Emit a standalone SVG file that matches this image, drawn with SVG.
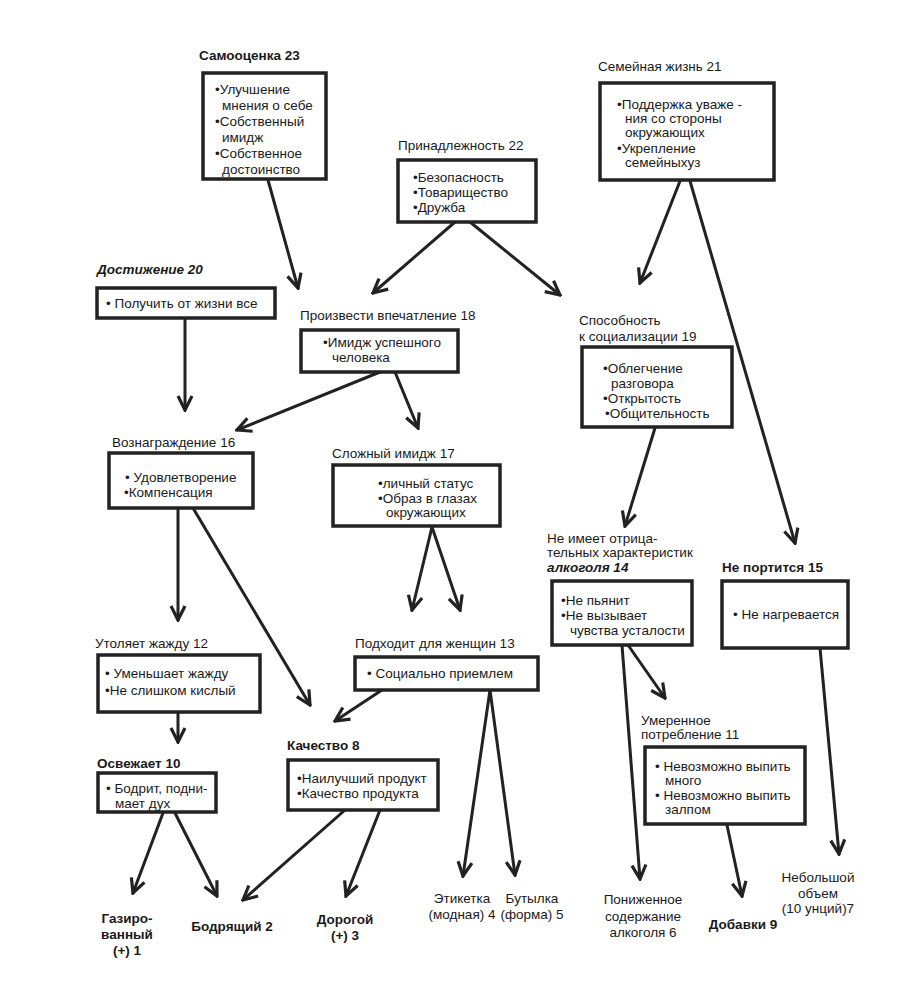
<svg xmlns="http://www.w3.org/2000/svg" width="916" height="983" viewBox="0 0 916 983">
<defs>
<style>
text{font-family:"Liberation Sans",Arial,sans-serif;font-size:13.5px;fill:#1a1a1a}
.b{font-weight:bold}
.bi{font-weight:bold;font-style:italic}
.c{text-anchor:middle}
rect.box{fill:#fff;stroke:#222;stroke-width:3.5}
.conn path,.conn line{stroke:#222;stroke-width:3;fill:none;stroke-linecap:round}
</style>
<marker id="ah" viewBox="0 0 18 18" refX="16" refY="9" markerWidth="18" markerHeight="18" markerUnits="userSpaceOnUse" orient="auto">
<path d="M2,2 L16,9 L2,16" fill="none" stroke="#222" stroke-width="3.2" stroke-linejoin="miter"/>
</marker>
</defs>
<rect width="916" height="983" fill="#fff"/>

<g id="connectors" class="conn">
<line x1="268" y1="180" x2="298" y2="288" marker-end="url(#ah)"/>
<line x1="455" y1="222" x2="373" y2="293" marker-end="url(#ah)"/>
<line x1="470" y1="222" x2="560" y2="295" marker-end="url(#ah)"/>
<line x1="680" y1="181" x2="640" y2="283" marker-end="url(#ah)"/>
<line x1="690" y1="181" x2="795" y2="543" marker-end="url(#ah)"/>
<line x1="185" y1="318" x2="185" y2="410" marker-end="url(#ah)"/>
<line x1="380" y1="372" x2="237" y2="430" marker-end="url(#ah)"/>
<line x1="395" y1="372" x2="418" y2="428" marker-end="url(#ah)"/>
<line x1="178" y1="508" x2="178" y2="620" marker-end="url(#ah)"/>
<line x1="193" y1="508" x2="310" y2="705" marker-end="url(#ah)"/>
<line x1="432" y1="527" x2="412" y2="610" marker-end="url(#ah)"/>
<line x1="432" y1="527" x2="460" y2="610" marker-end="url(#ah)"/>
<line x1="655" y1="428" x2="625" y2="526" marker-end="url(#ah)"/>
<line x1="178" y1="712" x2="178" y2="742" marker-end="url(#ah)"/>
<line x1="382" y1="690" x2="335" y2="721" marker-end="url(#ah)"/>
<line x1="490" y1="690" x2="463" y2="876" marker-end="url(#ah)"/>
<line x1="490" y1="690" x2="515" y2="875" marker-end="url(#ah)"/>
<line x1="628" y1="645" x2="665" y2="698" marker-end="url(#ah)"/>
<line x1="622" y1="645" x2="640" y2="879" marker-end="url(#ah)"/>
<line x1="163" y1="813" x2="133" y2="893" marker-end="url(#ah)"/>
<line x1="175" y1="813" x2="217" y2="896" marker-end="url(#ah)"/>
<line x1="345" y1="810" x2="243" y2="900" marker-end="url(#ah)"/>
<line x1="380" y1="810" x2="346" y2="896" marker-end="url(#ah)"/>
<line x1="727" y1="825" x2="742" y2="896" marker-end="url(#ah)"/>
<line x1="820" y1="648" x2="839" y2="854" marker-end="url(#ah)"/>
</g>

<g id="n23">
<text x="199" y="60" class="b">Самооценка 23</text>
<rect class="box" x="203" y="73" width="123" height="106"/>
<text x="215" y="94">•Улучшение</text>
<text x="222" y="110">мнения о себе</text>
<text x="215" y="126">•Собственный</text>
<text x="222" y="142">имидж</text>
<text x="215" y="158">•Собственное</text>
<text x="222" y="174">достоинство</text>
</g>

<g id="n22">
<text x="398" y="150">Принадлежность 22</text>
<rect class="box" x="398" y="160" width="138" height="62"/>
<text x="413" y="182">•Безопасность</text>
<text x="413" y="197">•Товарищество</text>
<text x="413" y="212">•Дружба</text>
</g>

<g id="n21">
<text x="598" y="71">Семейная жизнь 21</text>
<rect class="box" x="600" y="83" width="174" height="97"/>
<text x="617" y="109">•Поддержка уваже -</text>
<text x="625" y="123">ния со стороны</text>
<text x="625" y="137">окружающих</text>
<text x="617" y="153">•Укрепление</text>
<text x="625" y="167">семейныхуз</text>
</g>

<g id="n20">
<text x="97" y="274" class="bi">Достижение 20</text>
<rect class="box" x="97" y="288" width="178" height="30"/>
<text x="106" y="308">• Получить от жизни все</text>
</g>

<g id="n18">
<text x="300" y="320">Произвести впечатление 18</text>
<rect class="box" x="301" y="330" width="157" height="42"/>
<text x="323" y="347">•Имидж успешного</text>
<text x="332" y="362">человека</text>
</g>

<g id="n19">
<text x="579" y="325">Способность</text>
<text x="579" y="341">к социализации 19</text>
<rect class="box" x="582" y="347" width="150" height="80"/>
<text x="603" y="373">•Облегчение</text>
<text x="611" y="388">разговора</text>
<text x="603" y="403">•Открытость</text>
<text x="605" y="418">•Общительность</text>
</g>

<g id="n16">
<text x="112" y="447">Вознаграждение 16</text>
<rect class="box" x="109" y="453" width="144" height="55"/>
<text x="125" y="482">• Удовлетворение</text>
<text x="124" y="497">•Компенсация</text>
</g>

<g id="n17">
<text x="332" y="458">Сложный имидж 17</text>
<rect class="box" x="333" y="465" width="167" height="61"/>
<text x="378" y="488">•личный статус</text>
<text x="378" y="503">•Образ в глазах</text>
<text x="386" y="517">окружающих</text>
</g>

<g id="n14">
<text x="547" y="543">Не имеет отрица-</text>
<text x="547" y="557">тельных характеристик</text>
<text x="547" y="572" class="bi">алкоголя 14</text>
<rect class="box" x="552" y="581" width="140" height="64"/>
<text x="561" y="605">•Не пьянит</text>
<text x="561" y="620">•Не вызывает</text>
<text x="570" y="635">чувства усталости</text>
</g>

<g id="n15">
<text x="722" y="572" class="b">Не портится 15</text>
<rect class="box" x="722" y="581" width="126" height="67"/>
<text x="733" y="619">• Не нагревается</text>
</g>

<g id="n12">
<text x="95" y="648">Утоляет жажду 12</text>
<rect class="box" x="98" y="655" width="162" height="57"/>
<text x="105" y="678">• Уменьшает жажду</text>
<text x="105" y="695">•Не слишком кислый</text>
</g>

<g id="n13">
<text x="355" y="648">Подходит для женщин 13</text>
<rect class="box" x="355" y="657" width="183" height="33"/>
<text x="367" y="678">• Социально приемлем</text>
</g>

<g id="n10">
<text x="97" y="768" class="b">Освежает 10</text>
<rect class="box" x="98" y="773" width="118" height="39"/>
<text x="106" y="793">• Бодрит, подни-</text>
<text x="115" y="808">мает дух</text>
</g>

<g id="n8">
<text x="287" y="750" class="b">Качество 8</text>
<rect class="box" x="288" y="760" width="150" height="50"/>
<text x="297" y="783">•Наилучший продукт</text>
<text x="297" y="798">•Качество продукта</text>
</g>

<g id="n11">
<text x="641" y="725">Умеренное</text>
<text x="641" y="739">потребление 11</text>
<rect class="box" x="645" y="747" width="160" height="77"/>
<text x="655" y="771">• Невозможно выпить</text>
<text x="665" y="785">много</text>
<text x="655" y="800">• Невозможно выпить</text>
<text x="665" y="814">залпом</text>
</g>

<g id="n1">
<text x="127" y="923" class="b c">Газиро-</text>
<text x="127" y="939" class="b c">ванный</text>
<text x="127" y="955" class="b c">(+) 1</text>
</g>
<g id="n2"><text x="232" y="931" class="b c">Бодрящий 2</text></g>
<g id="n3">
<text x="345" y="924" class="b c">Дорогой</text>
<text x="345" y="940" class="b c">(+) 3</text>
</g>
<g id="n4">
<text x="462" y="903" class="c">Этикетка</text>
<text x="462" y="919" class="c">(модная) 4</text>
</g>
<g id="n5">
<text x="532" y="903" class="c">Бутылка</text>
<text x="532" y="919" class="c">(форма) 5</text>
</g>
<g id="n6">
<text x="643" y="904" class="c">Пониженное</text>
<text x="643" y="921" class="c">содержание</text>
<text x="643" y="937" class="c">алкоголя 6</text>
</g>
<g id="n9"><text x="743" y="929" class="b c">Добавки 9</text></g>
<g id="n7">
<text x="818" y="882" class="c">Небольшой</text>
<text x="818" y="898" class="c">объем</text>
<text x="818" y="913" class="c">(10 унций)7</text>
</g>
</svg>
